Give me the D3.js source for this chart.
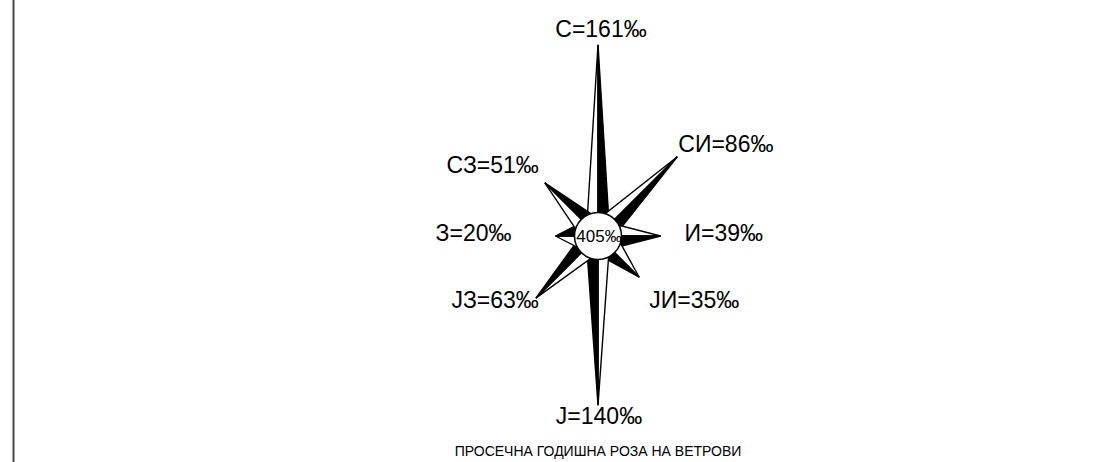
<!DOCTYPE html>
<html>
<head>
<meta charset="utf-8">
<script src="https://cdn.jsdelivr.net/npm/d3@7"></script>
<style>
  body { margin: 0; background: #fff; }
  svg { display: block; font-family: "Liberation Sans", Arial, Helvetica, sans-serif; }
</style>
</head>
<body>
<svg class="rose"></svg>
<script>
/* Годишна роза на ветрови - вредности во промили */
const directions = ["С", "СИ", "И", "ЈИ", "Ј", "ЈЗ", "З", "СЗ"]
const frequencies = [161, 86, 39, 35, 140, 63, 20, 51]
const calm = 405
const title = "ПРОСЕЧНА ГОДИШНА РОЗА НА ВЕТРОВИ"

const width = 1093, height = 462
const cx = 598, cy = 236
const hubR = 23.5, sideDist = 22, sideHalf = 10.5

const svg = d3.select("svg.rose")
    .attr("width", width)
    .attr("height", height)

// left frame edge
svg.append("line")
    .attr("x1", 13.5).attr("x2", 13.5)
    .attr("y1", 0).attr("y2", height)
    .attr("stroke", "#444")
    .attr("stroke-width", 2)

const angle = d3.scaleLinear()
    .domain([0, directions.length])
    .range([0, 2 * Math.PI])

const len = d3.scaleLinear()
    .domain([0, d3.max(frequencies)])
    .range([21.4, 191.3])

const rays = directions.map((d, i) => {
    const a = angle(i)
    const u = [Math.sin(a), -Math.cos(a)]
    const p = [Math.cos(a), Math.sin(a)]
    const L = len(frequencies[i])
    const tip = [cx + u[0] * L, cy + u[1] * L]
    const cw = [cx + u[0] * sideDist + p[0] * sideHalf, cy + u[1] * sideDist + p[1] * sideHalf]
    const ccw = [cx + u[0] * sideDist - p[0] * sideHalf, cy + u[1] * sideDist - p[1] * sideHalf]
    return {name: d, value: frequencies[i], i, tip, cw, ccw}
})

const line = d3.line()
const g = svg.append("g")

const ray = g.selectAll("g.ray")
    .data(rays)
    .enter()
    .append("g")
    .attr("class", "ray")

ray.append("path")
    .attr("d", d => line([[cx, cy], d.tip, d.ccw]) + "Z")
    .attr("fill", "#fff")
    .attr("stroke", "#000")
    .attr("stroke-width", 1.4)

ray.append("path")
    .attr("d", d => line([[cx, cy], d.tip, d.cw]) + "Z")
    .attr("fill", "#000")
    .attr("stroke", "#000")
    .attr("stroke-width", 1.4)

g.append("circle")
    .attr("cx", cx).attr("cy", cy).attr("r", hubR)
    .attr("fill", "#fff")
    .attr("stroke", "#000")
    .attr("stroke-width", 1.5)

g.append("text")
    .attr("x", cx + 1).attr("y", cy + 6)
    .attr("text-anchor", "middle")
    .attr("font-size", 17)
    .text(calm + "‰")

// label placement relative to each tip: [dx, dy, anchor]
const labelPos = [
    [3, -8, "middle"],
    [1, -5, "start"],
    [24, 5, "start"],
    [10, 31, "start"],
    [1, 19, "middle"],
    [3, 10, "end"],
    [-44, 5, "end"],
    [-6, -10, "end"]
]

g.selectAll("text.lbl")
    .data(rays)
    .enter()
    .append("text")
    .attr("class", "lbl")
    .attr("x", d => d.tip[0] + labelPos[d.i][0])
    .attr("y", d => d.tip[1] + labelPos[d.i][1])
    .attr("text-anchor", d => labelPos[d.i][2])
    .attr("font-size", 23)
    .text(d => d.name + "=" + d.value + "‰")

svg.append("text")
    .attr("x", cx).attr("y", 456)
    .attr("text-anchor", "middle")
    .attr("font-size", 14)
    .text(title)
</script>
</body>
</html>
